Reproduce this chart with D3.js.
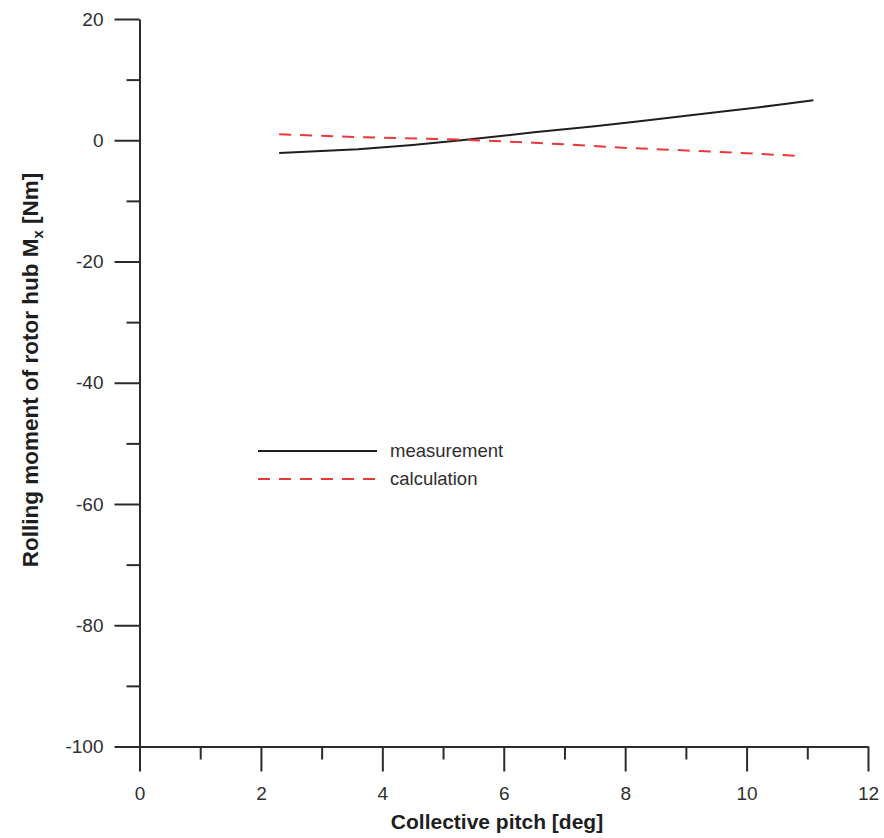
<!DOCTYPE html>
<html>
<head>
<meta charset="utf-8">
<script src="https://cdn.jsdelivr.net/npm/d3@7"></script>
<style>
  html, body { margin: 0; padding: 0; background: #fff; }
  svg { display: block; font-family: "Liberation Sans", Arial, sans-serif; }
</style>
</head>
<body>
<svg id="chart" width="884" height="838"></svg>
<script>
// Collective pitch [deg] vs rolling moment of rotor hub Mx [Nm]
const measPitch = [2.3, 3.6, 4.5, 5.3, 6.5, 7.5, 8.2, 9.5, 10.5, 11.1];
const measMoment = [-2.1, -1.5, -0.8, 0.0, 1.3, 2.3, 3.1, 4.6, 5.8, 6.6];

const calcPitch = [2.3, 3.6, 5.3, 6.5, 8.1, 9.5, 10.9];
const calcMoment = [1.0, 0.5, 0.1, -0.4, -1.3, -1.9, -2.6];

const xMajorTicks = [0, 2, 4, 6, 8, 10, 12];
const xMinorTicks = [1, 3, 5, 7, 9, 11];
const yMajorTicks = [20, 0, -20, -40, -60, -80, -100];
const yMinorTicks = [10, -10, -30, -50, -70, -90];

const seriesNames = ["measurement", "calculation"];

const svg = d3.select("#chart");
const axisColor = "#2b2b2b";
const textColor = "#2e2e2e";
const plainNumber = d => String(d);

const x = d3.scaleLinear().domain([0, 12]).range([139.5, 868]);
const y = d3.scaleLinear().domain([-100, 20]).range([746.5, 19]);

// X axis
const gx = svg.append("g").attr("transform", `translate(0,${y(-100)})`);
gx.call(d3.axisBottom(x).tickValues(xMajorTicks).tickSize(25).tickPadding(15).tickSizeOuter(0).tickFormat(plainNumber));
gx.append("g").call(d3.axisBottom(x).tickValues(xMinorTicks).tickSize(13).tickFormat(""))
  .select(".domain").remove();

// Y axis
const gy = svg.append("g").attr("transform", `translate(${x(0)},0)`);
gy.call(d3.axisLeft(y).tickValues(yMajorTicks).tickSize(25).tickPadding(11).tickSizeOuter(0).tickFormat(plainNumber));
gy.append("g").call(d3.axisLeft(y).tickValues(yMinorTicks).tickSize(13).tickFormat(""))
  .select(".domain").remove();

svg.selectAll(".domain, .tick line")
  .attr("stroke", axisColor).attr("stroke-width", 2);
svg.selectAll(".tick text")
  .attr("fill", textColor).style("font-size", "19px");

// Axis titles
svg.append("text")
  .attr("x", 497).attr("y", 829)
  .attr("text-anchor", "middle")
  .attr("fill", "#1e1e1e")
  .style("font-size", "21px").style("font-weight", "bold")
  .text("Collective pitch [deg]");

const yTitle = svg.append("text")
  .attr("transform", "translate(38,370) rotate(-90)")
  .attr("text-anchor", "middle")
  .attr("fill", "#1e1e1e")
  .style("font-size", "22.5px").style("font-weight", "bold");
yTitle.append("tspan").text("Rolling moment of rotor hub M");
yTitle.append("tspan").attr("dy", 5).style("font-size", "15px").text("x");
yTitle.append("tspan").attr("dy", -5).text(" [Nm]");

// Series
const line = d3.line().x(d => x(d[0])).y(d => y(d[1]));

svg.append("path")
  .datum(d3.zip(measPitch, measMoment))
  .attr("d", line)
  .attr("fill", "none")
  .attr("stroke", "#1f1f1f")
  .attr("stroke-width", 2);

svg.append("path")
  .datum(d3.zip(calcPitch, calcMoment))
  .attr("d", line)
  .attr("fill", "none")
  .attr("stroke", "#e8383a")
  .attr("stroke-width", 2)
  .attr("stroke-dasharray", "12,9");

// Legend
const legend = svg.append("g").attr("transform", "translate(258,451)");
const styles = [
  { stroke: "#1f1f1f", dash: null },
  { stroke: "#e8383a", dash: "12,9" }
];
seriesNames.forEach((name, i) => {
  const row = legend.append("g").attr("transform", `translate(0,${i * 28})`);
  row.append("line")
    .attr("x1", 0).attr("x2", 119).attr("y1", 0).attr("y2", 0)
    .attr("stroke", styles[i].stroke)
    .attr("stroke-width", 2)
    .attr("stroke-dasharray", styles[i].dash);
  row.append("text")
    .attr("x", 132).attr("y", 6)
    .attr("fill", textColor)
    .style("font-size", "18.5px")
    .text(name);
});
</script>
</body>
</html>
